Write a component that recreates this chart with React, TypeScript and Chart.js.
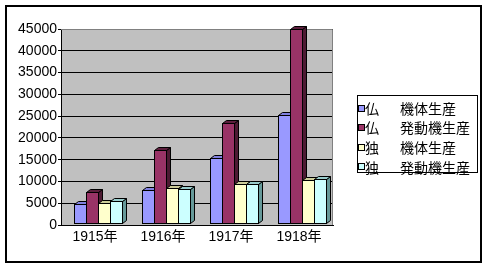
import React, { useEffect, useRef } from "react";
import { Chart, registerables } from "chart.js";

Chart.register(...registerables);

// ---- data ----
const categories = ["1915年", "1916年", "1917年", "1918年"];
const frAirframes = [4900, 8000, 15300, 25200];
const frEngines = [7600, 17300, 23500, 44900];
const deAirframes = [5000, 8600, 9300, 10400];
const deEngines = [5500, 8200, 9400, 10500];
const legendPrefixes = ["仏", "仏", "独", "独"];
const legendNames = ["機体生産", "発動機生産", "機体生産", "発動機生産"];
const yMax = 45000;
const yStep = 5000;

// ---- styles ----
const frontColors = ["#9999FF", "#993366", "#FFFFCC", "#CCFFFF"];
const topColors = ["#8080E0", "#5C1F3D", "#CCCC99", "#99CCCC"];
const sideColors = ["#6666B3", "#4D1A33", "#999966", "#669999"];
const DEPTH_X = 4;
const DEPTH_Y = 3;
const FRONT_SHIFT = 3;
const TICK_FONT = { family: "'Liberation Sans', Arial, 'Noto Sans CJK JP', sans-serif", size: 14 };
const LEGEND_FONT = "14px 'Noto Sans CJK JP', sans-serif";
const LEGEND_BOX = { left: 357, top: 95, width: 121, height: 78 };
const LEGEND_ROW_H = 19.6;

const bar3dPlugin = {
  id: "bar3d",
  beforeDraw(chart: any) {
    const { ctx, chartArea: a } = chart;
    ctx.save();
    ctx.fillStyle = "#FFFFFF";
    ctx.fillRect(0, 0, chart.width, chart.height);
    ctx.fillStyle = "#C0C0C0";
    ctx.fillRect(a.left, a.top, a.right - a.left, a.bottom - a.top);
    ctx.restore();
  },
  beforeDatasetsDraw(chart: any) {
    const { ctx, chartArea: a } = chart;
    ctx.save();
    ctx.strokeStyle = "#808080";
    ctx.lineWidth = 1;
    ctx.beginPath();
    ctx.moveTo(a.left, a.top + 0.5);
    ctx.lineTo(a.right - 0.5, a.top + 0.5);
    ctx.lineTo(a.right - 0.5, a.bottom);
    ctx.stroke();

    ctx.strokeStyle = "#000";
    ctx.lineWidth = 1;
    ctx.lineJoin = "miter";
    chart.data.datasets.forEach((_ds: any, i: number) => {
      const meta = chart.getDatasetMeta(i);
      meta.data.forEach((el: any) => {
        const p = el.getProps(["x", "y", "base", "width"], true);
        const l = Math.round(p.x - p.width / 2) + FRONT_SHIFT + 0.5;
        const r = Math.round(p.x + p.width / 2) + FRONT_SHIFT + 0.5;
        const t = Math.round(p.y) + 0.5;
        const b = Math.round(p.base) - 1.5;
        ctx.fillStyle = sideColors[i];
        ctx.beginPath();
        ctx.moveTo(r, t);
        ctx.lineTo(r + DEPTH_X, t - DEPTH_Y);
        ctx.lineTo(r + DEPTH_X, b - DEPTH_Y);
        ctx.lineTo(r, b);
        ctx.closePath();
        ctx.fill();
        ctx.stroke();
        ctx.fillStyle = topColors[i];
        ctx.beginPath();
        ctx.moveTo(l, t);
        ctx.lineTo(l + DEPTH_X, t - DEPTH_Y);
        ctx.lineTo(r + DEPTH_X, t - DEPTH_Y);
        ctx.lineTo(r, t);
        ctx.closePath();
        ctx.fill();
        ctx.stroke();
        ctx.fillStyle = frontColors[i];
        ctx.fillRect(l, t, r - l, b - t);
        ctx.strokeRect(l, t, r - l, b - t);
      });
    });
    ctx.restore();
    return false;
  },
  afterDraw(chart: any) {
    const ctx = chart.ctx;
    ctx.save();
    // outer frame
    ctx.strokeStyle = "#000";
    ctx.lineWidth = 2;
    ctx.strokeRect(6, 6, 475, 256);
    // legend box
    const B = LEGEND_BOX;
    ctx.lineWidth = 1;
    ctx.fillStyle = "#fff";
    ctx.fillRect(B.left, B.top, B.width, B.height);
    ctx.strokeRect(B.left + 0.5, B.top + 0.5, B.width - 1, B.height - 1);
    ctx.font = LEGEND_FONT;
    ctx.textBaseline = "middle";
    ctx.textAlign = "left";
    chart.data.datasets.forEach((_ds: any, i: number) => {
      const cy = B.top + 12.5 + i * LEGEND_ROW_H;
      const my = Math.round(cy - 3) + 0.5;
      ctx.fillStyle = frontColors[i];
      ctx.fillRect(B.left + 1.5, my, 6, 6);
      ctx.strokeStyle = "#000";
      ctx.strokeRect(B.left + 1.5, my, 6, 6);
      ctx.fillStyle = "#000";
      ctx.fillText(legendPrefixes[i], B.left + 8, cy + 1);
      ctx.fillText(legendNames[i], B.left + 43, cy + 1);
    });
    ctx.restore();
  },
};

export default function App() {
  const canvasRef = useRef<HTMLCanvasElement | null>(null);

  useEffect(() => {
    const canvas = canvasRef.current;
    if (!canvas) return;
    const series = [frAirframes, frEngines, deAirframes, deEngines];
    const chart = new Chart(canvas, {
      type: "bar",
      data: {
        labels: categories,
        datasets: series.map((d, i) => ({
          label: legendPrefixes[i] + " " + legendNames[i],
          data: d,
          backgroundColor: frontColors[i],
          borderColor: "#000",
          borderWidth: 1,
          categoryPercentage: 0.72,
          barPercentage: 1.0,
        })),
      },
      options: {
        responsive: false,
        animation: false,
        devicePixelRatio: 1,
        layout: { padding: { left: 0, top: 29, right: 155, bottom: 0 } },
        plugins: {
          legend: { display: false },
          tooltip: { enabled: false },
        },
        scales: {
          x: {
            grid: { display: false, drawTicks: false, tickLength: 0 },
            border: { display: true, color: "#000", width: 1 },
            ticks: { color: "#000", font: TICK_FONT, padding: 4, maxRotation: 0 },
            afterFit: (s: any) => {
              s.height = 44;
            },
          },
          y: {
            min: 0,
            max: yMax,
            grid: { color: "#000", lineWidth: 1, drawTicks: true, tickLength: 3 },
            border: { display: true, color: "#000", width: 1 },
            ticks: {
              stepSize: yStep,
              color: "#000",
              font: TICK_FONT,
              padding: 1,
              callback: (v: any) => String(v),
            },
            afterFit: (s: any) => {
              s.width = 61;
            },
          },
        },
      },
      plugins: [bar3dPlugin],
    });
    return () => chart.destroy();
  }, []);

  return (
    <div style={{ position: "absolute", left: 0, top: 0, width: 488, height: 269, background: "#fff" }}>
      <canvas ref={canvasRef} width={488} height={269} style={{ position: "absolute", left: 0, top: 0 }} />
    </div>
  );
}
